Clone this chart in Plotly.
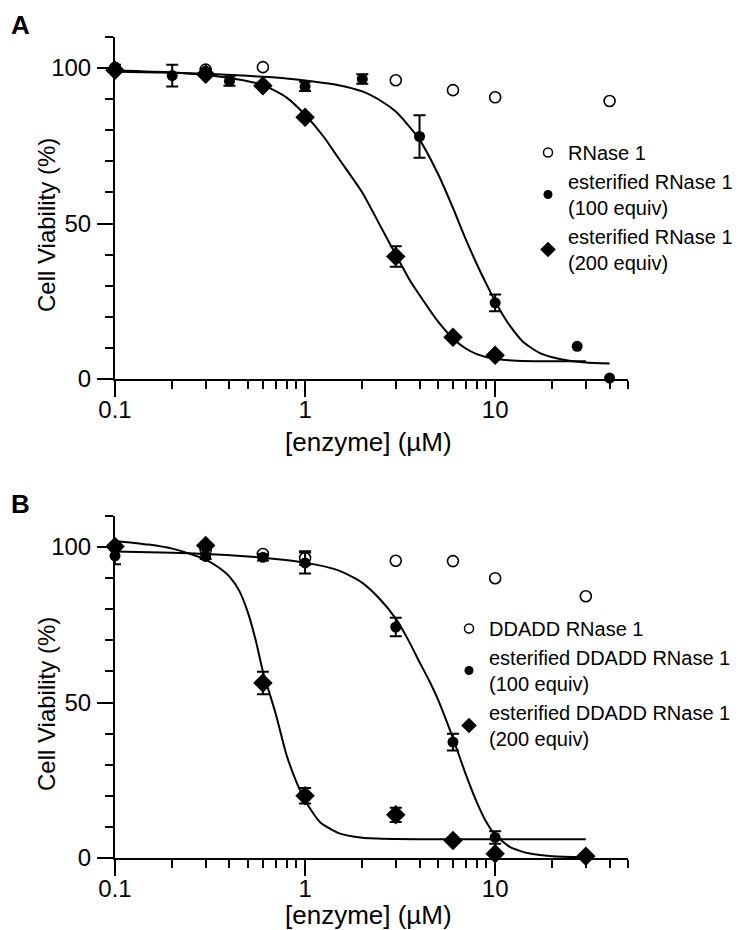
import plotly.graph_objects as go

# ---------------- Panel A data ----------------
a_rnase_x = [0.1, 0.3, 0.6, 3, 6, 10, 40]
a_rnase_y = [100.0, 99.5, 100.3, 96.1, 92.9, 90.6, 89.4]
a_rnase_err = [None, None, None, None, None, None, None]

a_e100_x = [0.1, 0.2, 0.3, 0.4, 1, 2, 4, 10, 27, 40]
a_e100_y = [100.3, 97.6, 99.0, 95.8, 94.1, 96.5, 78.0, 24.5, 10.5, 0.3]
a_e100_err = [0.8, 3.5, 0.8, 1.5, 1.5, 1.5, 6.8, 2.7, None, None]

a_e200_x = [0.1, 0.3, 0.6, 1, 3, 6, 10]
a_e200_y = [99.3, 98.0, 94.3, 84.2, 39.4, 13.4, 7.6]
a_e200_err = [None, None, None, 0.8, 3.3, None, None]

a_fit100_x = [0.1, 0.2, 0.3, 0.5, 0.7, 1, 1.5, 2, 2.5, 3, 3.5, 4, 5, 6, 7, 8, 9, 10, 11, 12, 14, 17, 20, 25, 30, 40]
a_fit100_y = [98.8, 98.5, 98.2, 97.5, 97.0, 96.0, 94.5, 92.5, 89.5, 86.0, 81.5, 77.0, 66.0, 55.0, 45.0, 37.0, 30.5, 25.0, 20.5, 17.0, 12.0, 8.5, 7.0, 5.8, 5.3, 5.0]

a_fit200_x = [0.1, 0.2, 0.3, 0.4, 0.5, 0.6, 0.8, 1, 1.25, 1.5, 2, 2.5, 3, 3.5, 4, 5, 6, 7, 8, 10, 13, 20, 30]
a_fit200_y = [99.2, 98.6, 97.8, 96.8, 95.8, 94.6, 90.5, 85.0, 78.0, 71.0, 60.0, 49.0, 40.0, 32.5, 27.0, 18.5, 13.0, 9.8, 8.0, 6.4, 5.9, 5.7, 5.7]

# ---------------- Panel B data ----------------
b_rnase_x = [0.1, 0.3, 0.6, 1, 3, 6, 10, 30]
b_rnase_y = [100.0, 99.1, 97.8, 96.5, 95.6, 95.5, 90.0, 84.2]
b_rnase_err = [None, None, None, 2.2, None, None, None, None]

b_e100_x = [0.1, 0.3, 0.6, 1, 3, 6, 10, 30]
b_e100_y = [97.2, 97.0, 96.7, 94.9, 74.3, 37.3, 6.6, 0.5]
b_e100_err = [2.7, 0.8, 1.0, 3.4, 3.0, 2.7, 2.0, None]

b_e200_x = [0.1, 0.3, 0.6, 1, 3, 6, 10, 30]
b_e200_y = [100.2, 100.5, 56.3, 20.0, 13.9, 5.6, 1.4, 0.6]
b_e200_err = [None, None, 3.6, 2.5, 2.3, None, None, None]

b_fit100_x = [0.1, 0.2, 0.3, 0.5, 0.7, 1, 1.5, 2, 2.5, 3, 3.5, 4, 4.5, 5, 6, 7, 8, 9, 10, 12, 15, 20, 30]
b_fit100_y = [98.6, 98.2, 97.8, 97.0, 96.2, 95.0, 92.5, 88.5, 83.0, 77.0, 70.0, 63.0, 57.0, 51.0, 38.5, 27.0, 18.0, 11.5, 7.5, 3.5, 1.5, 0.6, 0.3]

b_fit200_x = [0.1, 0.15, 0.2, 0.25, 0.3, 0.35, 0.4, 0.45, 0.5, 0.55, 0.6, 0.65, 0.7, 0.8, 0.9, 1, 1.2, 1.5, 2, 3, 5, 10, 30]
b_fit200_y = [102.0, 100.8, 99.5, 97.8, 96.0, 93.5, 90.5, 86.0, 79.0, 70.0, 60.0, 53.0, 46.5, 33.0, 24.5, 18.5, 11.5, 8.0, 6.5, 6.1, 6.0, 6.0, 6.0]

x_major = [0.1, 1, 10]
x_major_text = ["0.1", "1", "10"]
x_minor = [0.2, 0.3, 0.4, 0.5, 0.6, 0.7, 0.8, 0.9, 2, 3, 4, 5, 6, 7, 8, 9, 20, 30, 40, 50]
y_major = [0, 50, 100]
y_minor = [10, 20, 30, 40, 60, 70, 80, 90, 110]

labels_a = ["RNase 1", "esterified RNase 1<br>(100 equiv)", "esterified RNase 1<br>(200 equiv)"]
labels_b = ["DDADD RNase 1", "esterified DDADD RNase 1<br>(100 equiv)", "esterified DDADD RNase 1<br>(200 equiv)"]

FONT = "Liberation Sans, Arial, sans-serif"
W, H = 750, 930
X0, X1 = 107 / W, 620 / W
YA = ((930 - 371) / H, (930 - 29) / H)
YB = ((930 - 850) / H, (930 - 508) / H)

fig = go.Figure()

MK = {
    "open": dict(symbol="circle-open", size=11, color="black", line=dict(width=1.6, color="black")),
    "fill": dict(symbol="circle", size=11, color="black"),
    "dia": dict(symbol="diamond", size=15, color="black"),
}
MK_LEG = {
    "open": dict(symbol="circle-open", size=9, color="black", line=dict(width=1.5, color="black")),
    "fill": dict(symbol="circle", size=9, color="black"),
    "dia": dict(symbol="diamond", size=12, color="black"),
}

def add_panel(xa, ya, legend, fits, series, labels):
    for fx, fy in fits:
        fig.add_trace(go.Scatter(x=fx, y=fy, mode="lines", line=dict(color="black", width=2, shape="spline", smoothing=0.6),
                                 xaxis=xa, yaxis=ya, showlegend=False, hoverinfo="skip", cliponaxis=False))
    # error bars only where the reference shows them
    for sx, sy, se, key in series:
        idx = [i for i, e in enumerate(se) if e is not None]
        if not idx:
            continue
        fig.add_trace(go.Scatter(x=[sx[i] for i in idx], y=[sy[i] for i in idx], mode="markers",
                                 marker=dict(size=1, color="rgba(0,0,0,0)"), showlegend=False, hoverinfo="skip",
                                 error_y=dict(type="data", array=[se[i] for i in idx], visible=True,
                                              color="black", thickness=2, width=6),
                                 xaxis=xa, yaxis=ya, cliponaxis=False))
    for (sx, sy, se, key), lab in zip(series, labels):
        fig.add_trace(go.Scatter(x=sx, y=sy, mode="markers", showlegend=False, marker=MK[key],
                                 xaxis=xa, yaxis=ya, cliponaxis=False, name=lab.replace("<br>", " ")))
    for (sx, sy, se, key), lab in zip(series, labels):
        fig.add_trace(go.Scatter(x=[None], y=[None], mode="markers", name=lab, legend=legend,
                                 marker=MK_LEG[key], xaxis=xa, yaxis=ya, showlegend=True))

add_panel("x", "y", "legend",
          [(a_fit100_x, a_fit100_y), (a_fit200_x, a_fit200_y)],
          [(a_rnase_x, a_rnase_y, a_rnase_err, "open"),
           (a_e100_x, a_e100_y, a_e100_err, "fill"),
           (a_e200_x, a_e200_y, a_e200_err, "dia")], labels_a)
add_panel("x2", "y2", "legend2",
          [(b_fit100_x, b_fit100_y), (b_fit200_x, b_fit200_y)],
          [(b_rnase_x, b_rnase_y, b_rnase_err, "open"),
           (b_e100_x, b_e100_y, b_e100_err, "fill"),
           (b_e200_x, b_e200_y, b_e200_err, "dia")], labels_b)

tickfont = dict(family=FONT, size=24, color="black")

def xaxis(anchor, dom):
    return dict(type="log", range=[-1, 1.69897], domain=dom, anchor=anchor,
                showline=True, linecolor="black", linewidth=2, mirror=False,
                showgrid=False, zeroline=False, ticks="outside", ticklen=16, tickwidth=2, tickcolor="black",
                tickmode="array", tickvals=x_major, ticktext=x_major_text, tickfont=tickfont,
                ticklabelstandoff=-8,
                minor=dict(tickmode="array", tickvals=x_minor, ticks="outside", ticklen=8, tickwidth=2, tickcolor="black", showgrid=False),
                automargin=False)

def yaxis(anchor, dom):
    return dict(range=[0, 110], domain=dom, anchor=anchor,
                showline=True, linecolor="black", linewidth=2,
                showgrid=False, zeroline=False, ticks="outside", ticklen=16, tickwidth=2, tickcolor="black",
                tickmode="array", tickvals=y_major, tickfont=tickfont, ticklabelstandoff=1,
                minor=dict(tickmode="array", tickvals=y_minor, ticks="outside", ticklen=8, tickwidth=2, tickcolor="black", showgrid=False),
                automargin=False)

legfont = dict(family=FONT, size=20, color="black")
fig.update_layout(
    width=W, height=H, margin=dict(l=0, r=0, t=0, b=0),
    paper_bgcolor="white", plot_bgcolor="white",
    font=dict(family=FONT, color="black"),
    xaxis=xaxis("y", [X0, X1]), yaxis=yaxis("x", list(YA)),
    xaxis2=xaxis("y2", [X0, X1]), yaxis2=yaxis("x2", list(YB)),
    legend=dict(x=520 / W, y=(930 - 125) / H, xanchor="left", yanchor="top", font=legfont,
                bgcolor="rgba(0,0,0,0)", tracegroupgap=0, itemsizing="trace"),
    legend2=dict(x=441 / W, y=(930 - 601) / H, xanchor="left", yanchor="top", font=legfont,
                 bgcolor="rgba(0,0,0,0)", tracegroupgap=0, itemsizing="trace"),
    showlegend=True,
)

ann = [
    dict(text="<b>A</b>", x=1 / W, y=1 - 17 / H, xanchor="left", yanchor="middle", font=dict(family=FONT, size=26)),
    dict(text="<b>B</b>", x=1 / W, y=1 - 496 / H, xanchor="left", yanchor="middle", font=dict(family=FONT, size=26)),
    dict(text="Cell Viability (%)", x=38 / W, y=1 - 217 / H, textangle=-90, font=dict(family=FONT, size=24)),
    dict(text="Cell Viability (%)", x=38 / W, y=1 - 696 / H, textangle=-90, font=dict(family=FONT, size=24)),
    dict(text="[enzyme] (µM)", x=360 / W, y=1 - 434 / H, font=dict(family=FONT, size=26)),
    dict(text="[enzyme] (µM)", x=360 / W, y=1 - 907 / H, font=dict(family=FONT, size=26)),
]
for a in ann:
    a.update(xref="paper", yref="paper", showarrow=False)
    a.setdefault("xanchor", "center")
    a.setdefault("yanchor", "middle")
    a["font"]["color"] = "black"
fig.update_layout(annotations=ann)

fig.write_html("out.html")
